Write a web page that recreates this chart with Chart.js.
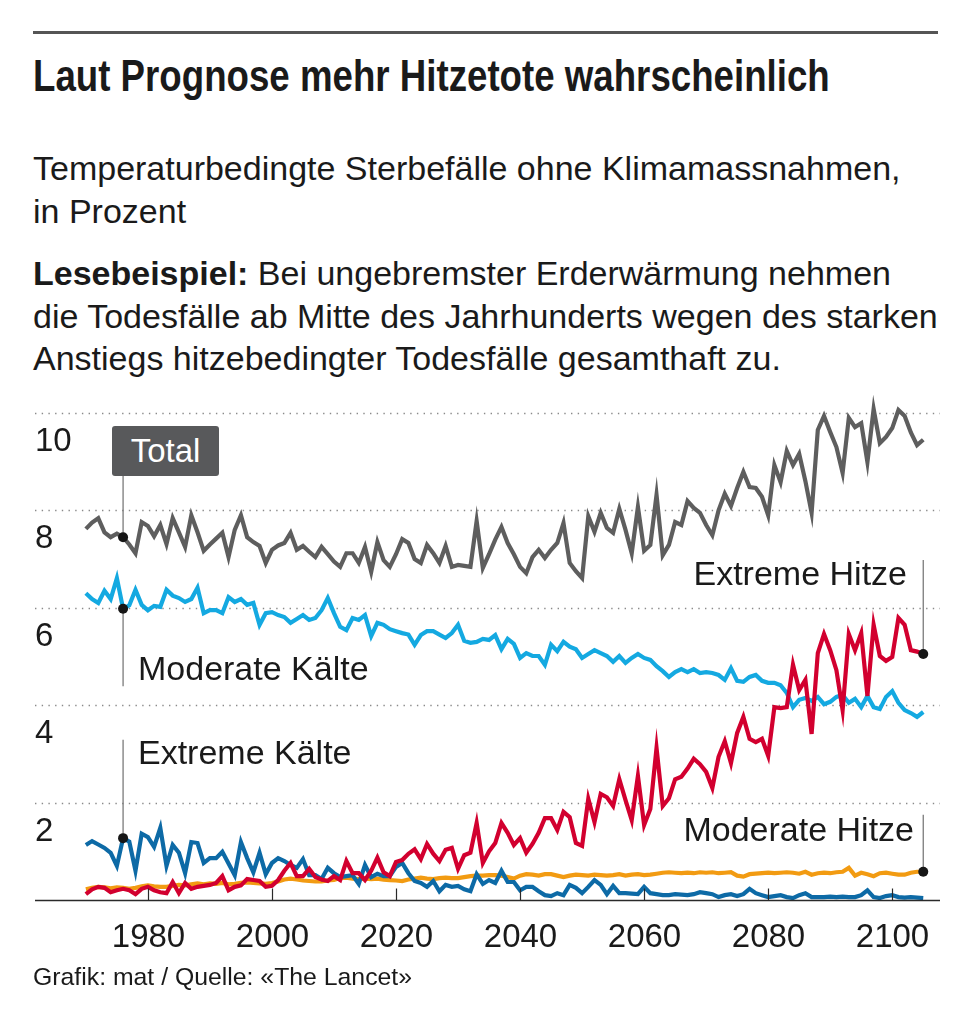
<!DOCTYPE html>
<html><head><meta charset="utf-8">
<script src="https://cdn.jsdelivr.net/npm/chart.js@4.4.1/dist/chart.umd.min.js"></script>
<style>
body{margin:0;background:#fff;width:971px;height:1024px;position:relative;overflow:hidden;font-family:"Liberation Sans",Arial,sans-serif;color:#1a1a1a}
.rule{position:absolute;left:33px;top:31px;width:905px;height:3px;background:#555}
#title{position:absolute;left:33px;top:50px;font-family:"Liberation Sans Narrow","Liberation Sans",sans-serif;font-weight:bold;font-size:45px;line-height:52px;white-space:nowrap;transform-origin:0 0;color:#1a1a1a}
.txt{position:absolute;left:33px;font-size:34px;line-height:42.5px;white-space:nowrap}
.lab{position:absolute;font-size:34px;line-height:40px;white-space:nowrap}
#totalbox{position:absolute;left:112px;top:426px;width:107px;height:50px;background:#58595b;border-radius:3px;color:#fff;font-size:33px;line-height:50px;text-align:center}
#foot{position:absolute;left:33px;top:962px;font-size:24.8px;line-height:30px;white-space:nowrap}
#wrap{position:absolute;left:0;top:380px;width:971px;height:600px}
</style></head>
<body>
<div class="rule"></div>
<div id="title">Laut Prognose mehr Hitzetote wahrscheinlich</div>
<div class="txt" style="top:147px">Temperaturbedingte Sterbefälle ohne Klimamassnahmen,<br>in Prozent</div>
<div class="txt" style="top:252px"><b>Lesebeispiel:</b> Bei ungebremster Erderwärmung nehmen<br>die Todesfälle ab Mitte des Jahrhunderts wegen des starken<br>Anstiegs hitzebedingter Todesfälle gesamthaft zu.</div>
<div id="wrap"><canvas id="c" width="971" height="600"></canvas></div>
<div id="totalbox">Total</div>
<div class="lab" style="left:138px;top:648px">Moderate Kälte</div>
<div class="lab" style="left:138px;top:732px">Extreme Kälte</div>
<div class="lab" style="right:64px;top:553px">Extreme Hitze</div>
<div class="lab" style="right:57px;top:809px">Moderate Hitze</div>
<div id="foot">Grafik: mat / Quelle: «The Lancet»</div>
<script>
// ---- data (annual values, 1970 … 2105) ----
const START_YEAR = 1970;
const total = [7.62,7.75,7.84,7.55,7.45,7.52,7.45,7.3,7.12,7.76,7.68,7.47,7.7,7.31,7.84,7.55,7.25,7.9,7.55,7.17,7.3,7.42,7.54,7.04,7.6,7.9,7.45,7.35,7.27,6.92,7.19,7.28,7.33,7.54,7.19,7.27,7.15,7.04,7.25,7.1,6.95,6.84,7.12,7.12,6.92,7.25,6.74,7.35,6.98,6.84,7.1,7.41,7.33,7.0,6.92,7.29,7.12,6.92,7.27,6.84,6.88,6.86,6.84,7.78,6.82,7.1,7.4,7.66,7.33,7.1,6.84,6.71,7.04,7.19,7.02,7.19,7.33,7.74,6.92,6.75,6.61,7.88,7.56,7.95,7.64,7.54,8.03,7.6,7.12,8.07,7.17,7.29,8.32,7.08,7.29,7.76,7.7,8.19,8.05,7.95,7.7,7.49,8.0,8.34,8.09,8.46,8.79,8.48,8.46,8.28,7.9,8.93,8.58,9.22,8.93,9.16,8.6,7.95,9.65,9.94,9.61,9.3,8.77,9.9,9.71,9.79,8.99,10.08,9.38,9.51,9.69,10.06,9.94,9.6,9.34,9.45];
const moderateKaelte = [6.30,6.18,6.10,6.35,6.18,6.61,5.98,6.05,6.37,6.06,5.95,6.04,6.02,6.37,6.25,6.2,6.12,6.18,6.41,5.89,5.95,5.95,5.89,6.22,6.12,6.18,6.06,6.1,5.65,5.89,5.91,5.85,5.81,5.69,5.77,5.85,5.75,5.79,5.95,6.2,5.89,5.61,5.54,5.79,5.75,5.85,5.42,5.69,5.65,5.56,5.52,5.48,5.45,5.24,5.44,5.52,5.52,5.45,5.38,5.48,5.65,5.32,5.28,5.30,5.36,5.34,5.44,5.15,5.36,5.26,4.97,5.07,5.01,5.01,4.83,5.24,5.11,5.30,5.2,5.15,4.97,5.05,5.13,5.07,5.01,4.89,5.01,4.87,4.97,5.05,4.97,4.93,4.80,4.70,4.58,4.68,4.74,4.68,4.74,4.66,4.68,4.66,4.62,4.52,4.76,4.5,4.48,4.58,4.62,4.5,4.46,4.46,4.41,4.25,3.96,4.11,4.15,4.09,4.17,4.02,4.07,4.17,4.21,4.05,4.13,3.96,4.19,3.96,3.92,4.17,4.29,4.05,3.9,3.84,3.76,3.86];
const extremeKaelte = [1.13,1.21,1.14,1.07,0.97,0.70,1.27,1.2,0.6,1.36,1.29,1.09,1.48,0.70,1.13,0.97,0.55,1.19,1.17,0.76,0.86,0.86,0.99,0.75,0.51,1.19,0.86,0.57,0.97,0.53,0.76,0.86,0.80,0.72,0.66,0.84,0.51,0.51,0.43,0.66,0.55,0.47,0.49,0.51,0.33,0.72,0.47,0.54,0.49,0.49,0.68,0.76,0.55,0.39,0.35,0.27,0.39,0.18,0.31,0.27,0.29,0.22,0.18,0.53,0.33,0.41,0.35,0.60,0.37,0.37,0.2,0.27,0.27,0.18,0.10,0.08,0.14,0.10,0.31,0.25,0.14,0.27,0.41,0.31,0.12,0.29,0.14,0.14,0.13,0.12,0.27,0.14,0.12,0.10,0.10,0.12,0.11,0.10,0.12,0.16,0.14,0.12,0.06,0.10,0.12,0.08,0.12,0.23,0.14,0.10,0.06,0.08,0.10,0.06,0.04,0.10,0.14,0.06,0.06,0.06,0.07,0.06,0.07,0.06,0.06,0.1,0.2,0.06,0.04,0.08,0.1,0.06,0.05,0.06,0.05,0.04];
const extremeHitze = [0.12,0.22,0.27,0.25,0.16,0.2,0.23,0.2,0.12,0.23,0.27,0.2,0.16,0.14,0.37,0.14,0.35,0.23,0.27,0.29,0.31,0.35,0.49,0.2,0.27,0.3,0.43,0.41,0.39,0.27,0.29,0.41,0.6,0.76,0.49,0.49,0.64,0.47,0.42,0.39,0.49,0.41,0.80,0.55,0.55,0.41,0.60,0.87,0.57,0.49,0.78,0.82,0.95,1.04,0.84,1.15,0.95,0.80,1.03,1.07,0.64,0.92,0.97,1.58,0.76,1.0,1.17,1.58,1.38,1.13,1.27,0.97,1.15,1.38,1.68,1.68,1.44,1.81,1.70,1.17,1.11,2.08,1.60,2.18,2.11,1.93,2.48,2.05,1.64,2.55,1.54,1.87,3.12,1.93,2.09,2.48,2.53,2.7,2.9,2.79,2.63,2.30,2.94,3.26,2.81,3.43,3.76,3.31,3.24,3.31,2.96,3.96,3.94,3.96,4.83,4.31,4.52,3.41,5.07,5.46,5.13,4.72,3.9,5.46,5.13,5.48,4.19,5.65,5.01,4.91,4.99,5.79,5.65,5.13,5.1,5.05];
const moderateHitze = [0.22,0.25,0.27,0.26,0.24,0.26,0.25,0.23,0.25,0.28,0.3,0.28,0.27,0.27,0.29,0.31,0.3,0.32,0.34,0.32,0.34,0.33,0.35,0.32,0.33,0.35,0.36,0.35,0.34,0.33,0.35,0.38,0.42,0.44,0.42,0.4,0.39,0.38,0.38,0.4,0.41,0.45,0.46,0.44,0.43,0.44,0.43,0.44,0.42,0.41,0.4,0.39,0.42,0.44,0.46,0.44,0.43,0.45,0.46,0.45,0.45,0.47,0.49,0.5,0.5,0.51,0.51,0.5,0.47,0.44,0.5,0.53,0.52,0.5,0.53,0.53,0.5,0.47,0.5,0.52,0.51,0.5,0.52,0.51,0.5,0.51,0.53,0.5,0.52,0.53,0.51,0.52,0.54,0.56,0.57,0.56,0.55,0.56,0.55,0.57,0.56,0.57,0.55,0.56,0.57,0.5,0.48,0.53,0.54,0.55,0.56,0.55,0.56,0.57,0.56,0.54,0.58,0.52,0.55,0.56,0.55,0.57,0.58,0.66,0.5,0.56,0.53,0.49,0.55,0.56,0.54,0.52,0.52,0.56,0.58,0.58];
const xTickYears = [1980, 2000, 2020, 2040, 2060, 2080, 2100];
const yTickValues = [2, 4, 6, 8, 10];
const yTickLabels = ['2', '4', '6', '8', '10'];
// annotation anchors: series, year of dot, value where leader line ends
const annotations = [
  {series: total, year: 1976, end: 8.71},
  {series: moderateKaelte, year: 1976, end: 4.39},
  {series: extremeKaelte, year: 1976, end: 3.29},
  {series: extremeHitze, year: 2105, end: 6.98},
  {series: moderateHitze, year: 2105, end: 1.75}
];

const COL = {total:'#5e5e5e', mk:'#14a9e1', ek:'#0d6aa6', eh:'#d2002f', mh:'#f29b12'};
const pts = arr => arr.map((v, i) => ({x: START_YEAR + i, y: v}));

// fit title width
const t = document.getElementById('title');
t.style.transform = 'scaleX(' + (797 / t.offsetWidth) + ')';

const FONT = '"Liberation Sans", Arial, sans-serif';
const axesPlugin = {
  id: 'axesPlugin',
  beforeDatasetsDraw(chart) {
    const {ctx, chartArea: ca, scales: {x, y}} = chart;
    ctx.save();
    ctx.strokeStyle = '#8a8a8a';
    ctx.lineWidth = 1.6;
    ctx.setLineDash([1.4, 5.3]);
    yTickValues.forEach(v => {
      const py = Math.round(y.getPixelForValue(v)) + 0.5;
      ctx.beginPath(); ctx.moveTo(ca.left, py); ctx.lineTo(ca.right, py); ctx.stroke();
    });
    ctx.setLineDash([]);
    ctx.fillStyle = '#1a1a1a';
    ctx.font = '33px ' + FONT;
    ctx.textAlign = 'left'; ctx.textBaseline = 'alphabetic';
    yTickValues.forEach((v, i) => {
      ctx.fillText(yTickLabels[i], ca.left, y.getPixelForValue(v) + 38);
    });
    ctx.restore();
  },
  afterDatasetsDraw(chart) {
    const {ctx, chartArea: ca, scales: {x, y}} = chart;
    ctx.save();
    const y0 = Math.round(y.getPixelForValue(0)) + 0.5;
    ctx.strokeStyle = '#2a2a2a'; ctx.lineWidth = 1.6;
    ctx.beginPath(); ctx.moveTo(ca.left, y0); ctx.lineTo(ca.right, y0); ctx.stroke();
    ctx.lineWidth = 1.2;
    ctx.fillStyle = '#1a1a1a';
    ctx.font = '33px ' + FONT;
    ctx.textAlign = 'center'; ctx.textBaseline = 'alphabetic';
    xTickYears.forEach(yr => {
      const px = Math.round(x.getPixelForValue(yr)) + 0.5;
      ctx.beginPath(); ctx.moveTo(px, y0); ctx.lineTo(px, y0 - 12); ctx.stroke();
      ctx.fillText(String(yr), px, y0 + 46);
    });
    // leader lines and dots
    annotations.forEach(a => {
      const v = a.series[a.year - START_YEAR];
      const px = x.getPixelForValue(a.year);
      const py = y.getPixelForValue(v);
      ctx.strokeStyle = '#7a7a7a'; ctx.lineWidth = 1.3;
      ctx.beginPath(); ctx.moveTo(px, py); ctx.lineTo(px, y.getPixelForValue(a.end)); ctx.stroke();
      ctx.fillStyle = '#161616';
      ctx.beginPath(); ctx.arc(px, py, 5, 0, Math.PI * 2); ctx.fill();
    });
    ctx.restore();
  }
};

const ds = (data, color) => ({data: pts(data), borderColor: color, borderWidth: 4.2, pointRadius: 0, tension: 0, fill: false, borderJoinStyle: 'miter', borderCapStyle: 'butt'});

new Chart(document.getElementById('c'), {
  type: 'line',
  data: {datasets: [
    ds(total, COL.total),
    ds(extremeHitze, COL.eh),
    ds(moderateKaelte, COL.mk),
    ds(extremeKaelte, COL.ek),
    ds(moderateHitze, COL.mh)
  ]},
  options: {
    responsive: false, animation: false, devicePixelRatio: 1,
    layout: {padding: {left: 35, right: 31, top: 13.5, bottom: 80}},
    scales: {
      x: {type: 'linear', min: 1961.8, max: 2107.7, display: false},
      y: {min: 0, max: 10.4, display: false}
    },
    plugins: {legend: {display: false}, tooltip: {enabled: false}},
    events: []
  },
  plugins: [axesPlugin]
});
</script>
</body></html>
